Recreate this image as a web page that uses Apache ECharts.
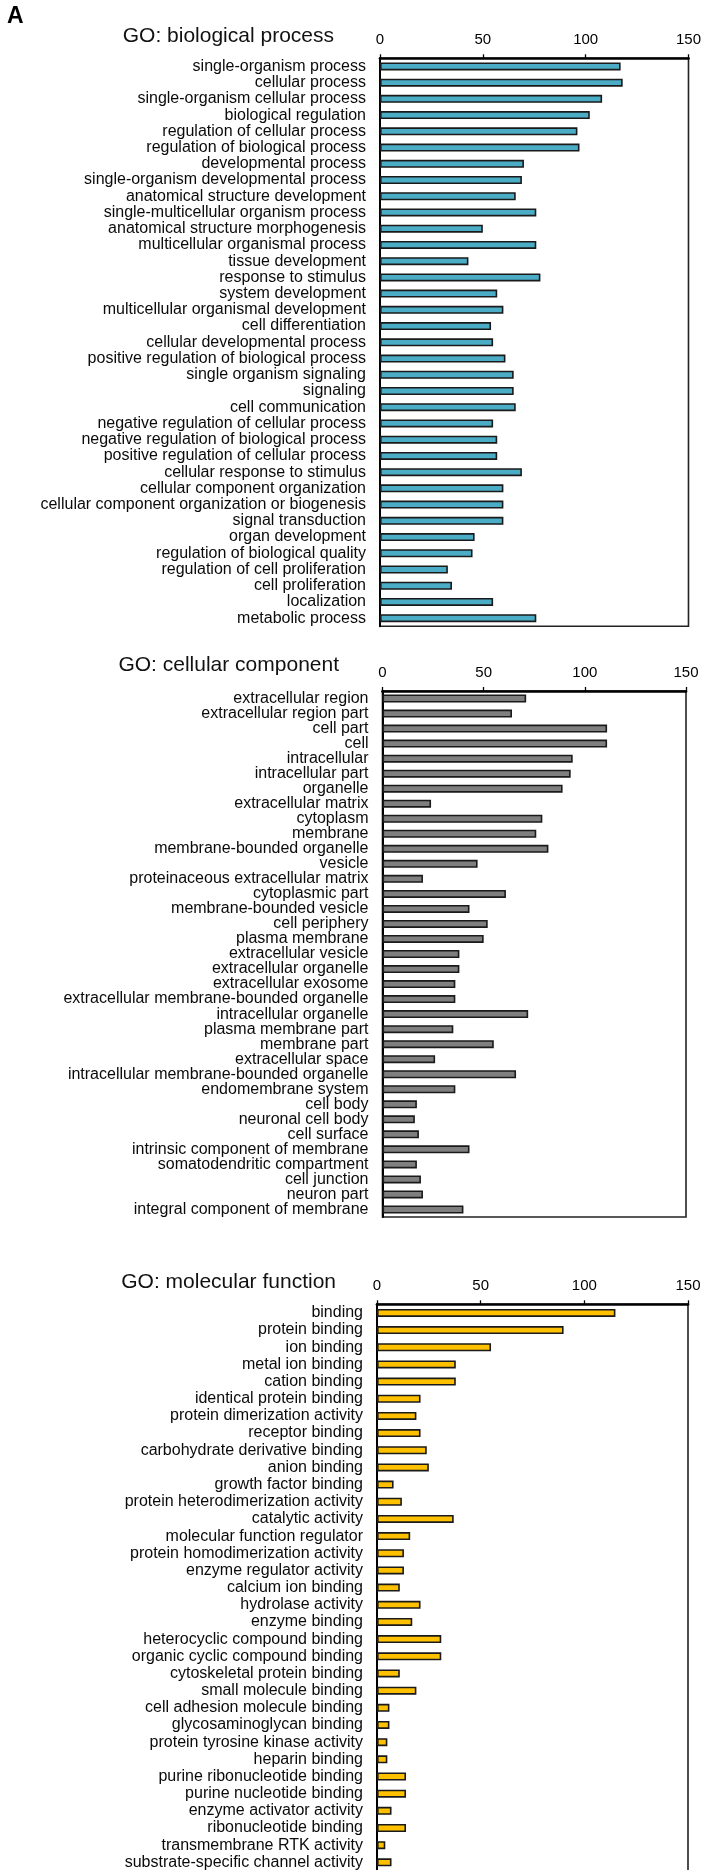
<!DOCTYPE html>
<html>
<head>
<meta charset="utf-8">
<script src="https://cdn.jsdelivr.net/npm/echarts@6/dist/echarts.min.js"></script>
<style>
html,body{margin:0;padding:0;background:#fff;}
#wrap{width:704px;height:1870px;overflow:hidden;position:relative;}
#chart{width:704px;height:1880px;}
</style>
</head>
<body>
<div id="wrap"><div id="chart"></div></div>
<script>
const bpCategories = ["single-organism process","cellular process","single-organism cellular process","biological regulation","regulation of cellular process","regulation of biological process","developmental process","single-organism developmental process","anatomical structure development","single-multicellular organism process","anatomical structure morphogenesis","multicellular organismal process","tissue development","response to stimulus","system development","multicellular organismal development","cell differentiation","cellular developmental process","positive regulation of biological process","single organism signaling","signaling","cell communication","negative regulation of cellular process","negative regulation of biological process","positive regulation of cellular process","cellular response to stimulus","cellular component organization","cellular component organization or biogenesis","signal transduction","organ development","regulation of biological quality","regulation of cell proliferation","cell proliferation","localization","metabolic process"];
const bpValues = [117,118,108,102,96,97,70,69,66,76,50,76,43,78,57,60,54,55,61,65,65,66,55,57,57,69,60,60,60,46,45,33,35,55,76];

const ccCategories = ["extracellular region","extracellular region part","cell part","cell","intracellular","intracellular part","organelle","extracellular matrix","cytoplasm","membrane","membrane-bounded organelle","vesicle","proteinaceous extracellular matrix","cytoplasmic part","membrane-bounded vesicle","cell periphery","plasma membrane","extracellular vesicle","extracellular organelle","extracellular exosome","extracellular membrane-bounded organelle","intracellular organelle","plasma membrane part","membrane part","extracellular space","intracellular membrane-bounded organelle","endomembrane system","cell body","neuronal cell body","cell surface","intrinsic component of membrane","somatodendritic compartment","cell junction","neuron part","integral component of membrane"];
const ccValues = [71,64,111,111,94,93,89,24,79,76,82,47,20,61,43,52,50,38,38,36,36,72,35,55,26,66,36,17,16,18,43,17,19,20,40];

const mfCategories = ["binding","protein binding","ion binding","metal ion binding","cation binding","identical protein binding","protein dimerization activity","receptor binding","carbohydrate derivative binding","anion binding","growth factor binding","protein heterodimerization activity","catalytic activity","molecular function regulator","protein homodimerization activity","enzyme regulator activity","calcium ion binding","hydrolase activity","enzyme binding","heterocyclic compound binding","organic cyclic compound binding","cytoskeletal protein binding","small molecule binding","cell adhesion molecule binding","glycosaminoglycan binding","protein tyrosine kinase activity","heparin binding","purine ribonucleotide binding","purine nucleotide binding","enzyme activator activity","ribonucleotide binding","transmembrane RTK activity","substrate-specific channel activity"];
const mfValues = [115,90,55,38,38,21,19,21,24,25,8,12,37,16,13,13,11,21,17,31,31,11,19,6,6,5,5,14,14,7,14,4,7];

const panelTitles = ["GO: biological process","GO: cellular component","GO: molecular function"];
const panelColors = ["#4BACC6","#7F7F7F","#FFC000"];

const FONT = "'Liberation Sans', Arial, Helvetica, sans-serif";

const panels = [
  {cats: bpCategories, vals: bpValues, grid:{left:380, right:704-688.5, top:58.3, height:568}, title:{x:334, y:36}},
  {cats: ccCategories, vals: ccValues, grid:{left:382.5, right:704-686, top:691, height:526}, title:{x:339, y:665}},
  {cats: mfCategories, vals: mfValues, grid:{left:377, right:704-688, top:1304.3, height:33*17.17}, title:{x:336, y:1282}}
];

const grids = [], xAxes = [], yAxes = [], series = [], graphics = [];
panels.forEach((p, i) => {
  grids.push(Object.assign({show:true, borderColor:'#222', borderWidth:1.6, backgroundColor:'transparent'}, p.grid));
  xAxes.push({
    type:'value', gridIndex:i, position:'top', min:0, max:150, interval:50,
    axisLine:{show:true, onZero:false, lineStyle:{color:'#000', width:2.7}},
    axisTick:{show:true, inside:false, length:4, lineStyle:{color:'#000', width:1.3}},
    axisLabel:{color:'#000', fontSize:15, fontFamily:FONT, margin:11},
    splitLine:{show:false}
  });
  yAxes.push({
    type:'category', gridIndex:i, inverse:true, data:p.cats,
    axisLine:{show:true, lineStyle:{color:'#000', width:2}},
    axisTick:{show:false},
    axisLabel:{color:'#0a0a0a', fontSize:16, fontFamily:FONT, margin:14, interval:0},
    splitLine:{show:false}
  });
  series.push({
    type:'bar', xAxisIndex:i, yAxisIndex:i, data:p.vals, barWidth:8,
    itemStyle:{color:panelColors[i], borderColor:'#1a1a1a', borderWidth:1.6},
    emphasis:{disabled:true}, animation:false
  });
  graphics.push({
    type:'text', x:p.title.x, y:p.title.y,
    style:{text:panelTitles[i], fill:'#111', font:'21px ' + FONT, align:'right', verticalAlign:'middle'}
  });
});
graphics.push({type:'text', x:7, y:17, style:{text:'A', fill:'#000', font:'bold 23px ' + FONT, align:'left', verticalAlign:'middle'}});

const chart = echarts.init(document.getElementById('chart'), null, {renderer:'canvas'});
chart.setOption({
  animation:false,
  backgroundColor:'#fff',
  grid:grids, xAxis:xAxes, yAxis:yAxes, series:series, graphic:graphics
});
</script>
</body>
</html>
